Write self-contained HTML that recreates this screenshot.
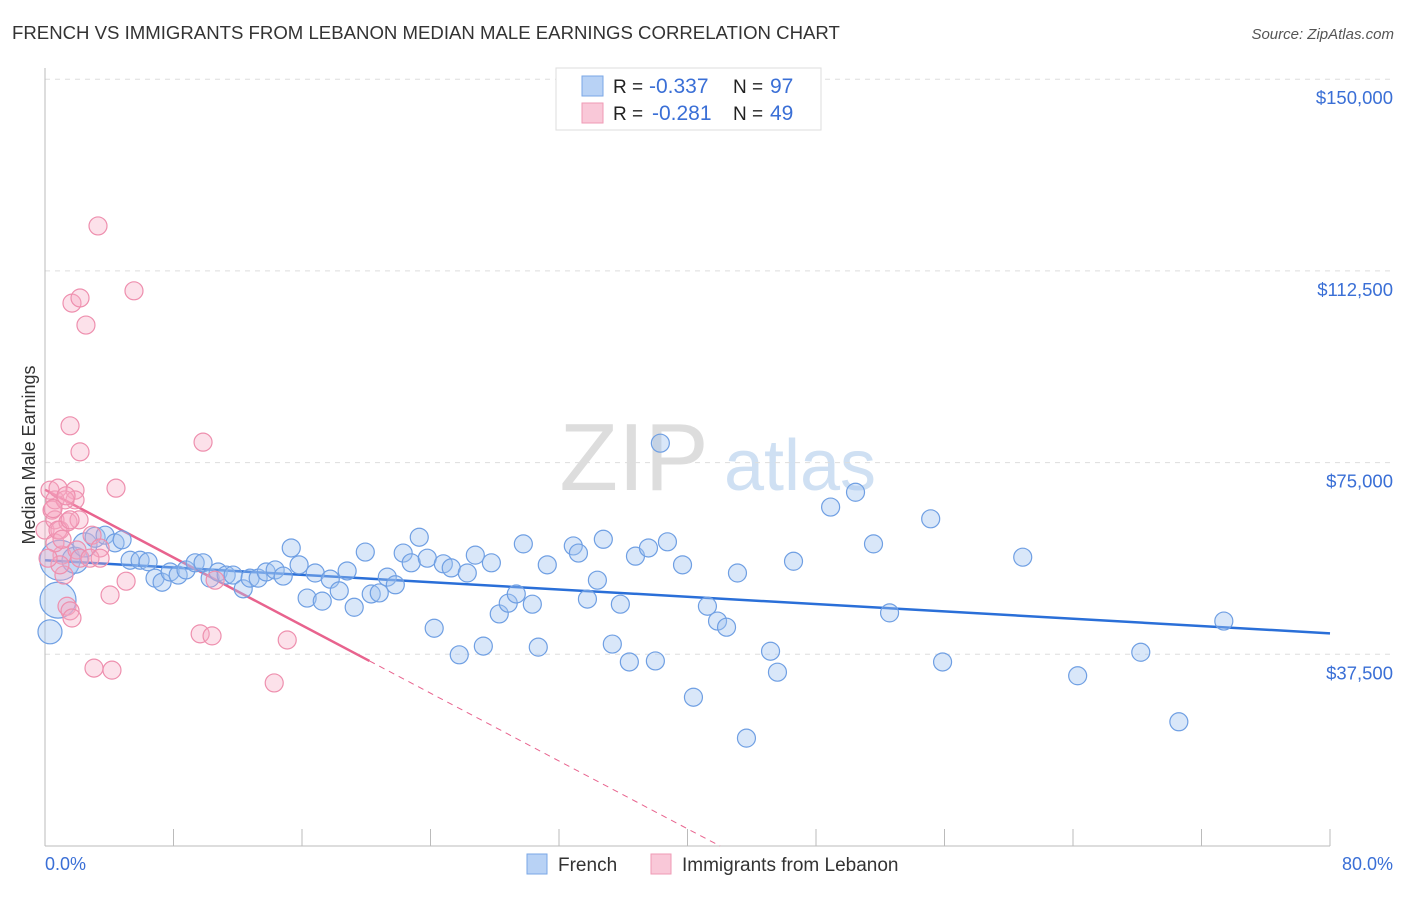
<!DOCTYPE html>
<html><head><meta charset="utf-8"><style>
body{margin:0;background:#fff;font-family:"Liberation Sans",sans-serif;}
svg text{font-family:"Liberation Sans",sans-serif;}
</style></head><body>
<svg id="chart" width="1406" height="892" viewBox="0 0 1406 892">
<text x="12" y="39" font-size="18.6" fill="#333">FRENCH VS IMMIGRANTS FROM LEBANON MEDIAN MALE EARNINGS CORRELATION CHART</text>
<text x="1394" y="39" font-size="15" fill="#555" font-style="italic" text-anchor="end">Source: ZipAtlas.com</text>
<g><text x="634" y="490" font-size="96" fill="#ddd" font-family="Liberation Serif" text-anchor="middle">ZIP</text><text x="800" y="490" font-size="72" fill="#cfe0f3" text-anchor="middle">atlas</text></g>
<g id="grid"></g><g id="axes"></g><g id="trends"></g><g id="dots"></g>
<text transform="translate(35,455) rotate(-90)" font-size="18" fill="#333" text-anchor="middle">Median Male Earnings</text>
<text x="45" y="870" font-size="18" fill="#3a6fd6">0.0%</text>
<text x="1393" y="870" font-size="18" fill="#3a6fd6" text-anchor="end">80.0%</text>
<g>
<rect x="556" y="68" width="265" height="62" fill="#fff" stroke="#ddd"/>
<rect x="582" y="76" width="21" height="20" fill="#b8d2f5" stroke="#7aa7e6"/>
<rect x="582" y="103" width="21" height="20" fill="#f9c8d8" stroke="#ef9ab5"/>
<text x="613" y="93" font-size="19" fill="#222">R = <tspan x="649" fill="#3a6fd6" font-size="21">-0.337</tspan><tspan x="733">N = </tspan><tspan x="770" fill="#3a6fd6" font-size="21">97</tspan></text>
<text x="613" y="120" font-size="19" fill="#222">R = <tspan x="652" fill="#3a6fd6" font-size="21">-0.281</tspan><tspan x="733">N = </tspan><tspan x="770" fill="#3a6fd6" font-size="21">49</tspan></text>
</g>
<g>
<rect x="527" y="854" width="20" height="20" fill="#b8d2f5" stroke="#7aa7e6"/>
<text x="558" y="871" font-size="19" fill="#333">French</text>
<rect x="651" y="854" width="20" height="20" fill="#f9c8d8" stroke="#ef9ab5"/>
<text x="682" y="871" font-size="19" fill="#333">Immigrants from Lebanon</text>
</g>
</svg>
<script>
const yTicks=[37500,75000,112500,150000];
const yTickLabels=["$37,500","$75,000","$112,500","$150,000"];
const xTicks=[0,8,16,24,32,40,48,56,64,72,80];
const frenchX=[0.93,0.81,0.31,1.87,2.49,3.12,3.74,4.36,4.80,5.30,5.92,6.42,6.85,7.29,7.79,8.29,8.78,9.35,9.84,10.28,10.78,11.28,11.71,12.34,12.77,13.27,13.77,14.33,14.83,15.33,15.82,16.32,16.82,17.26,17.76,18.32,18.81,19.25,19.94,20.31,20.81,21.31,21.81,22.30,22.80,23.30,23.80,24.23,24.80,25.29,25.79,26.29,26.79,27.29,27.79,28.28,28.84,29.34,29.78,30.34,30.71,31.27,32.89,33.21,33.77,34.39,34.76,35.32,35.82,36.38,36.76,37.57,38.00,38.31,38.75,39.69,40.37,41.24,41.87,42.43,43.11,43.67,45.17,45.60,46.60,48.91,50.46,51.58,52.58,55.14,55.88,60.87,64.29,68.22,70.59,73.39];
const frenchY=[55.9,48.1,41.9,55.9,58.9,60.4,60.8,59.3,59.9,55.9,55.9,55.6,52.4,51.6,53.6,53.0,54.0,55.4,55.4,52.4,53.6,53.0,53.0,50.3,52.4,52.4,53.6,54.0,52.8,58.3,55.0,48.5,53.4,47.9,52.2,49.9,53.8,46.7,57.5,49.3,49.5,52.6,51.1,57.3,55.4,60.4,56.3,42.6,55.2,54.4,37.4,53.4,56.9,39.1,55.4,45.4,47.5,49.3,59.1,47.3,38.9,55.0,58.7,57.3,48.3,52.0,60.0,39.5,47.3,36.0,56.7,58.3,36.2,78.8,59.5,55.0,29.1,46.9,44.0,42.8,53.4,21.1,38.1,34.0,55.7,66.3,69.2,59.1,45.6,64.0,36.0,56.5,33.3,37.9,24.3,44.0];
const frenchR=[20,18,12,13,12,10];
const lebX=[0,0.31,0.44,0.62,0.62,0.81,0.93,1.06,1.18,1.37,1.43,1.56,1.56,1.68,1.68,1.87,1.87,1.99,2.12,2.18,2.18,2.55,2.93,3.05,3.30,3.43,4.05,4.17,4.42,5.05,5.54,9.66,9.84,10.40,10.59,14.27,15.08,0.93,1.25,0.62,0.19,2.18,2.80,0.81,1.31,3.43,1.06,1.56,0.5];
const lebY=[61.8,69.6,65.7,67.7,63.8,70.0,61.8,56.9,53.0,46.9,63.4,82.2,46.0,106.2,44.6,69.6,67.7,57.9,63.8,77.1,107.2,101.9,60.8,34.8,121.3,58.3,49.1,34.4,70.0,51.8,108.6,41.5,79.0,41.1,52.0,31.9,40.3,55.0,67.7,59.3,56.3,56.3,56.3,61.8,68.5,56.3,60.0,63.8,66.0];
const frenchTrend=[55.9,41.6];
const lebTrend=[69.7,36.2,20.2];
const NS="http://www.w3.org/2000/svg";
const X0=45,X1=1330,Y0=846,PPK=191.7/37.5;
const xs=v=>X0+(v/80)*(X1-X0);
const ys=k=>Y0-k*PPK;
function mk(tag,attrs,parent){const e=document.createElementNS(NS,tag);for(const k in attrs)e.setAttribute(k,attrs[k]);parent.appendChild(e);return e;}
const gridG=document.getElementById('grid'),axesG=document.getElementById('axes'),trendsG=document.getElementById('trends'),dotsG=document.getElementById('dots');
yTicks.forEach((t,i)=>{const y=ys(t/1000);
const l=mk('line',{x1:45,x2:1393,y1:y,y2:y,stroke:'#ddd','stroke-dasharray':'5,5'},gridG);


const tx=mk('text',{x:1393,y:y+25,'font-size':18.5,fill:'#3a6fd6','text-anchor':'end'},gridG);tx.textContent=yTickLabels[i];

});
const ya=mk('line',{x1:45,x2:45,y1:68,y2:846,stroke:'#bbb'},axesG);


const xa=mk('line',{x1:45,x2:1330,y1:846,y2:846,stroke:'#bbb'},axesG);


xTicks.forEach(t=>{const tk=mk('line',{x1:xs(t),x2:xs(t),y1:829,y2:846,stroke:'#bbb'},axesG);

});
frenchX.forEach((v,i)=>{const c=mk('circle',{cx:xs(v),cy:ys(frenchY[i]),r:frenchR[i]||9,fill:'rgba(160,195,240,0.4)',stroke:'#6f9fe3','stroke-width':1.2},dotsG);

});
lebX.forEach((v,i)=>{const c=mk('circle',{cx:xs(v),cy:ys(lebY[i]),r:9,fill:'rgba(245,170,195,0.35)',stroke:'#ee8fae','stroke-width':1.2},dotsG);

});
const ft=mk('line',{x1:xs(0),y1:ys(frenchTrend[0]),x2:xs(80),y2:ys(frenchTrend[1]),stroke:'#2a6fd8','stroke-width':2.5},trendsG);


const slope=(lebTrend[1]-lebTrend[0])/lebTrend[2];
const lt=mk('line',{x1:xs(0),y1:ys(lebTrend[0]),x2:xs(lebTrend[2]),y2:ys(lebTrend[1]),stroke:'#e8638e','stroke-width':2.5},trendsG);


const xEnd=-lebTrend[0]/slope;
const ld=mk('line',{x1:xs(lebTrend[2]),y1:ys(lebTrend[1]),x2:xs(xEnd),y2:ys(0),stroke:'#e8638e','stroke-width':1,'stroke-dasharray':'6,5'},trendsG);


</script>
</body></html>
